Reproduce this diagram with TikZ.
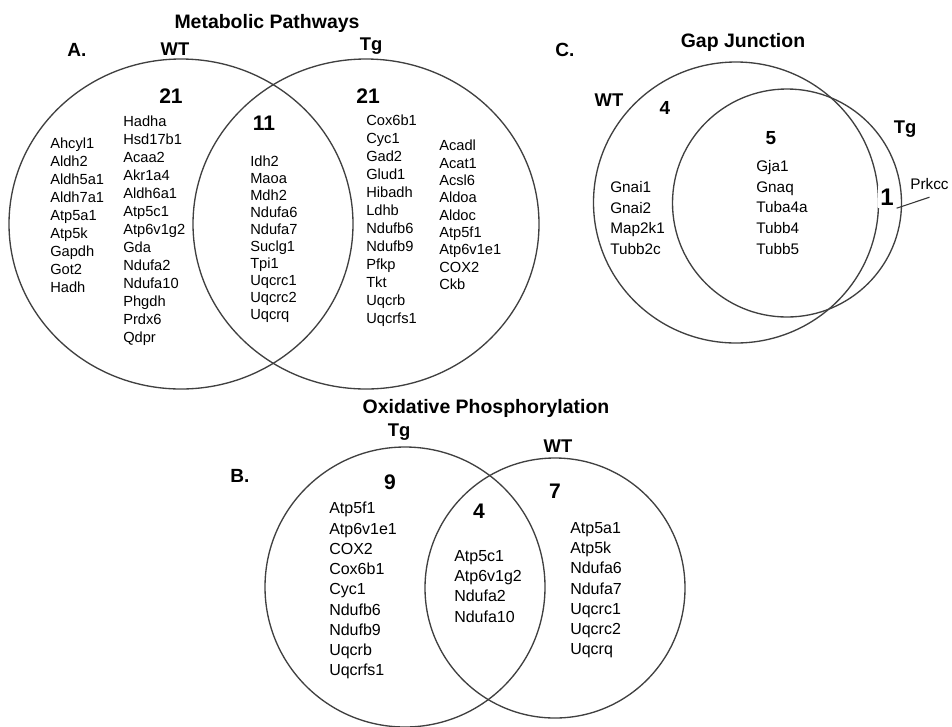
\documentclass[tikz,border=0pt]{standalone}
\usepackage{fontspec}
\setmainfont{Liberation Sans}
\tikzset{
  venn/.style = {draw=black!75, line width=1pt},
  title/.style = {font=\fontsize{14.6}{17}\selectfont\bfseries, inner sep=0pt},
  panel/.style = {font=\fontsize{14.3}{17}\selectfont\bfseries, inner sep=0pt},
  group/.style = {font=\fontsize{13.8}{16}\selectfont\bfseries, inner sep=0pt},
  count/.style = {font=\fontsize{15.8}{19}\selectfont\bfseries, inner sep=0pt},
  smallcount/.style = {font=\fontsize{14.2}{17}\selectfont\bfseries, inner sep=0pt},
  genesA/.style = {font=\fontsize{11}{13.5}\selectfont, align=left, anchor=north west, inner sep=0pt},
  genesB/.style = {font=\fontsize{12}{15.2}\selectfont, align=left, anchor=north west, inner sep=0pt},
  genesC/.style = {font=\fontsize{11.5}{15.45}\selectfont, align=left, anchor=north west, inner sep=0pt},
}

\begin{document}
\begin{tikzpicture}[x=0.75pt, y=-0.75pt]
    \useasboundingbox (0,0) rectangle (952,726);

    % --- A. Metabolic Pathways ---
    \draw[venn] (181,224) ellipse [x radius=172, y radius=165];
    \draw[venn] (366,224) ellipse [x radius=173, y radius=165];
    \node[title] (atitle) at (267,23) {Metabolic Pathways};
    \node[panel] (apanel) at (77,50) {A.};
    \node[group] (awt) at (175,49) {WT};
    \node[group] (atg) at (371,46) {Tg};
    \node[count] (awtn)  at (171,96)  {21};
    \node[count] (atgn)  at (368,96)  {21};
    \node[count] (abothn) at (264,123) {11};
    \node[genesA] (awtgenesa) at (50,137.8) {Ahcyl1\\Aldh2\\Aldh5a1\\Aldh7a1\\Atp5a1\\Atp5k\\Gapdh\\Got2\\Hadh};
    \node[genesA] (awtgenesb) at (123,115.8) {Hadha\\Hsd17b1\\Acaa2\\Akr1a4\\Aldh6a1\\Atp5c1\\Atp6v1g2\\Gda\\Ndufa2\\Ndufa10\\Phgdh\\Prdx6\\Qdpr};
    \node[genesA, font=\fontsize{11}{12.75}\selectfont] (abothgenes) at (250,155.8) {Idh2\\Maoa\\Mdh2\\Ndufa6\\Ndufa7\\Suclg1\\Tpi1\\Uqcrc1\\Uqcrc2\\Uqcrq};
    \node[genesA] (atggenesa) at (366,114.8) {Cox6b1\\Cyc1\\Gad2\\Glud1\\Hibadh\\Ldhb\\Ndufb6\\Ndufb9\\Pfkp\\Tkt\\Uqcrb\\Uqcrfs1};
    \node[genesA, font=\fontsize{11}{13}\selectfont] (atggenesb) at (439,139.8) {Acadl\\Acat1\\Acsl6\\Aldoa\\Aldoc\\Atp5f1\\Atp6v1e1\\COX2\\Ckb};

    % --- C. Gap Junction ---
    \draw[venn] (736,202.5) ellipse [x radius=142.5, y radius=140.5];
    \draw[venn] (787,203) ellipse [x radius=114.5, y radius=114];
    \node[title] (ctitle) at (743,42) {Gap Junction};
    \node[panel] (cpanel) at (565,50) {C.};
    \node[group] (cwt) at (609,100) {WT};
    \node[group] (ctg) at (905,129) {Tg};
    \node[smallcount] (cwtn)   at (665,108) {4};
    \node[smallcount] (cbothn) at (771,138) {5};
    \node[genesC] (cwtgenes) at (610,181.4) {Gnai1\\Gnai2\\Map2k1\\Tubb2c};
    \node[genesC] (cbothgenes) at (756,160.4) {Gja1\\Gnaq\\Tuba4a\\Tubb4\\Tubb5};
    \node[smallcount, font=\fontsize{18}{20}\selectfont\bfseries, fill=white, inner sep=2pt] (cone) at (887,197) {1};
    \node[font=\fontsize{11.5}{14}\selectfont, anchor=west, inner sep=0pt] (prkcc) at (910,184) {Prkcc};
    % Line to the single Tg gene
    \draw[black!80, line width=0.8pt] (cone.south east) -- ([yshift=-5.5pt]prkcc.south);

    % --- B. Oxidative Phosphorylation ---
    \draw[venn] (405,587) circle [radius=140];
    \draw[venn] (555,588) circle [radius=130];
    \node[title] (btitle) at (486,408) {Oxidative Phosphorylation};
    \node[panel] (bpanel) at (240,476) {B.};
    \node[group] (btg) at (399,432) {Tg};
    \node[group] (bwt) at (558,446) {WT};
    \node[count] (btgn)   at (390,482) {9};
    \node[count] (bbothn) at (479,511) {4};
    \node[count] (bwtn)   at (555,491) {7};
    \node[genesB] (btggenes) at (329,502) {Atp5f1\\Atp6v1e1\\COX2\\Cox6b1\\Cyc1\\Ndufb6\\Ndufb9\\Uqcrb\\Uqcrfs1};
    \node[genesB] (bbothgenes) at (454,550) {Atp5c1\\Atp6v1g2\\Ndufa2\\Ndufa10};
    \node[genesB] (bwtgenes) at (570,522) {Atp5a1\\Atp5k\\Ndufa6\\Ndufa7\\Uqcrc1\\Uqcrc2\\Uqcrq};
\end{tikzpicture}
\end{document}
